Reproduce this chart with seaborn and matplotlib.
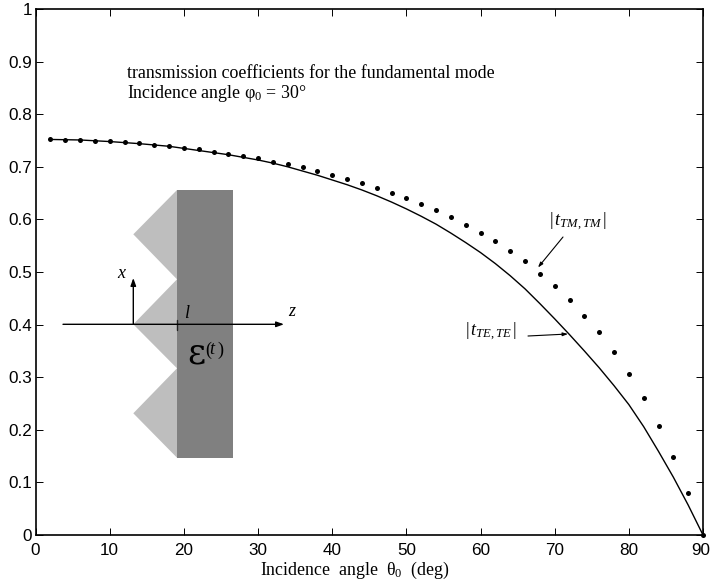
import numpy as np
import pandas as pd
import matplotlib
matplotlib.use("Agg")
import matplotlib.pyplot as plt
from matplotlib.patches import Polygon, Rectangle
from matplotlib.transforms import ScaledTranslation
import seaborn as sns

# incidence angle (deg), sampled every 2 degrees
angle = [2, 4, 6, 8, 10, 12, 14, 16, 18, 20, 22, 24, 26, 28, 30,
         32, 34, 36, 38, 40, 42, 44, 46, 48, 50, 52, 54, 56, 58, 60,
         62, 64, 66, 68, 70, 72, 74, 76, 78, 80, 82, 84, 86, 88, 90]
t_te = [.752, .7515, .751, .7495, .748, .746, .744, .7415, .739, .735,
        .731, .727, .723, .718, .713, .707, .700, .692, .684, .675,
        .666, .656, .645, .633, .620, .606, .591, .574, .556, .537,
        .516, .493, .468, .440, .411, .381, .350, .318, .284, .248,
        .206, .159, .110, .057, 0]
t_tm = [.752, .7517, .751, .7497, .7485, .7465, .7445, .742, .7395, .736,
        .733, .729, .725, .7205, .716, .710, .705, .699, .692, .685,
        .677, .669, .660, .650, .640, .629, .617, .604, .589, .574,
        .558, .539, .520, .497, .473, .447, .417, .385, .347, .307,
        .260, .207, .148, .079, 0]
x_ticks = [0, 10, 20, 30, 40, 50, 60, 70, 80, 90]
y_ticks = [0, 0.1, 0.2, 0.3, 0.4, 0.5, 0.6, 0.7, 0.8, 0.9, 1]
y_labels = ["0", "0.1", "0.2", "0.3", "0.4", "0.5", "0.6", "0.7", "0.8", "0.9", "1"]

sns.set_style("ticks")
plt.rcParams.update({
    "font.family": "Liberation Sans",
    "mathtext.fontset": "custom",
    "mathtext.rm": "Liberation Serif",
    "mathtext.it": "Liberation Serif:italic",
    "mathtext.bf": "Liberation Serif:bold",
})
SERIF = "Liberation Serif"

W, H = 711, 586
df = pd.DataFrame({"angle": angle, "te": t_te, "tm": t_tm})

fig = plt.figure(figsize=(W / 100, H / 100), dpi=100, facecolor="white")
ax = fig.add_axes([35.5 / W, 1 - 535 / H, (703 - 35.5) / W, (535 - 9) / H])

sns.lineplot(data=df, x="angle", y="te", color="black", linewidth=1.0, ax=ax)
sns.scatterplot(data=df, x="angle", y="tm", color="black", s=13, linewidth=0,
                clip_on=False, zorder=5, ax=ax)

ax.set_xlim(0, 90)
ax.set_ylim(0, 1)
ax.set_xticks(x_ticks)
ax.set_yticks(y_ticks)
ax.set_yticklabels(y_labels)
ax.set_ylabel("")
ax.set_xlabel("")
ax.tick_params(direction="in", length=5, width=0.7, top=True, right=True,
               labelsize=12.3, pad=2.5, color="black", labelcolor="black")
ax.tick_params(axis="x", pad=6)
for side in ax.spines.values():
    side.set_linewidth(1.2)
    side.set_color("black")

# last x label sits a touch left, it would run off the picture otherwise
last = ax.get_xticklabels()[-1]
last.set_transform(last.get_transform() + ScaledTranslation(-2 / 100, 0, fig.dpi_scale_trans))

# pixel-space overlay for the schematic and the labels
ov = fig.add_axes([0, 0, 1, 1], facecolor="none")
ov.set_xlim(0, W)
ov.set_ylim(H, 0)
ov.axis("off")

ov.add_patch(Polygon([(177, 190), (133.3, 234.3), (177, 279.3), (133.3, 324.3),
                      (177, 368.3), (133.3, 413.3), (177, 457.7)],
                     closed=True, facecolor="#BEBEBE", edgecolor="none"))
ov.add_patch(Rectangle((177, 190), 56, 267.7, facecolor="#808080", edgecolor="none"))

arrow = dict(arrowstyle="-|>,head_length=0.45,head_width=0.16", color="black",
             lw=1.0, shrinkA=0, shrinkB=0)
ov.annotate("", xy=(284, 324.3), xytext=(63, 324.3), arrowprops=arrow)
ov.annotate("", xy=(133.3, 278), xytext=(133.3, 324.3), arrowprops=arrow)
ov.plot([177, 177], [320, 330], color="#222222", lw=1.0)

thin = dict(arrowstyle="-|>,head_length=0.3,head_width=0.1", color="black",
            lw=0.8, shrinkA=0, shrinkB=0)
ov.annotate("", xy=(538, 267.5), xytext=(563, 237), arrowprops=thin)
ov.annotate("", xy=(568, 334), xytext=(528, 336), arrowprops=thin)


def label(px, py, s, size=10.5, **kw):
    kw.setdefault("family", SERIF)
    ov.text(px, py, s, fontsize=size, ha="left", va="center", color="black", **kw)


label(127, 73, "transmission coefficients for the fundamental mode", size=12.9)
label(127, 93.5, "Incidence angle φ$_{0}$ = 30°", size=12.9)
label(260, 570.5, "Incidence  angle  θ$_{0}$  (deg)", size=12.9)
label(117, 273, "x", size=13, style="italic")
label(184, 313, "l", size=13, style="italic")
label(288, 312, "z", size=13, style="italic")
label(187, 354, "ε", size=25, family="DejaVu Serif")
label(205, 350, "(", size=13)
label(209.5, 350, "t", size=13, style="italic")
label(217, 350, ")", size=13)
label(549, 222, r"$|\,t_{TM,TM}\,|$", size=13)
label(465, 332, r"$|\,t_{TE,TE}\,|$", size=13)

fig.savefig("out.png", dpi=100)
